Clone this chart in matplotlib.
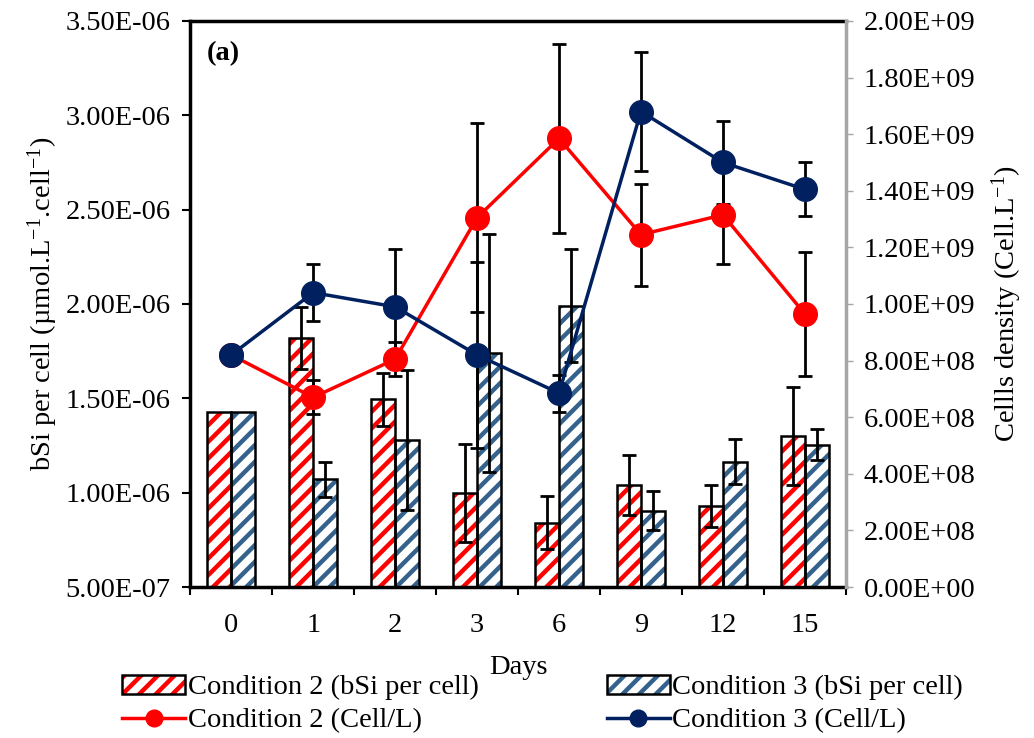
import numpy as np
import matplotlib
matplotlib.use('Agg')
import matplotlib.pyplot as plt
from matplotlib.patches import Patch
from matplotlib.lines import Line2D

plt.rcParams['font.family'] = ['Liberation Serif', 'DejaVu Serif']
plt.rcParams['mathtext.fontset'] = 'stix'
plt.rcParams['hatch.linewidth'] = 3.2

# data
days = ['0', '1', '2', '3', '6', '9', '12', '15']
bsi_c2 = [1.43e-6, 1.82e-6, 1.495e-6, 1.00e-6, 8.4e-7, 1.04e-6, 9.3e-7, 1.30e-6]
bsi_c2_err = [0, 0.165e-6, 0.14e-6, 0.26e-6, 0.14e-6, 0.16e-6, 0.11e-6, 0.26e-6]
bsi_c3 = [1.43e-6, 1.07e-6, 1.28e-6, 1.74e-6, 1.99e-6, 9.05e-7, 1.165e-6, 1.255e-6]
bsi_c3_err = [0, 0.095e-6, 0.37e-6, 0.63e-6, 0.30e-6, 0.105e-6, 0.12e-6, 0.08e-6]
cells_c2 = [8.2e8, 6.7e8, 8.05e8, 1.305e9, 1.585e9, 1.245e9, 1.315e9, 9.65e8]
cells_c2_err = [0, 0.06e9, 0.06e9, 0.335e9, 0.335e9, 0.18e9, 0.175e9, 0.22e9]
cells_c3 = [8.2e8, 1.04e9, 9.9e8, 8.2e8, 6.85e8, 1.68e9, 1.50e9, 1.405e9]
cells_c3_err = [0, 0.10e9, 0.205e9, 0.33e9, 0.065e9, 0.21e9, 0.145e9, 0.095e9]

red = '#ff0000'
navy = '#002060'
steel = '#34628c'
fs = 20.5

x = np.arange(len(days))
w = 0.29

fig = plt.figure(figsize=(10.34, 7.38), dpi=100)
ax = fig.add_axes([0.184, 0.2046, 0.634, 0.767])
ax2 = ax.twinx()

# bars: hatched layer + black outline
ax.bar(x - w/2, bsi_c2, w, color='white', edgecolor=red, hatch='//', linewidth=0, zorder=2)
ax.bar(x - w/2, bsi_c2, w, fill=False, edgecolor='black', linewidth=1.8, zorder=3)
ax.bar(x + w/2, bsi_c3, w, color='white', edgecolor=steel, hatch='//', linewidth=0, zorder=2)
ax.bar(x + w/2, bsi_c3, w, fill=False, edgecolor='black', linewidth=1.8, zorder=3)
ax.errorbar(x[1:] - w/2, bsi_c2[1:], yerr=bsi_c2_err[1:], fmt='none', ecolor='black',
            elinewidth=2, capsize=5, capthick=2, zorder=4)
ax.errorbar(x[1:] + w/2, bsi_c3[1:], yerr=bsi_c3_err[1:], fmt='none', ecolor='black',
            elinewidth=2, capsize=5, capthick=2, zorder=4)

# lines
ax2.errorbar(x[1:], cells_c2[1:], yerr=cells_c2_err[1:], fmt='none', ecolor='black',
             elinewidth=2, capsize=5, capthick=2, zorder=2)
ax2.errorbar(x[1:], cells_c3[1:], yerr=cells_c3_err[1:], fmt='none', ecolor='black',
             elinewidth=2, capsize=5, capthick=2, zorder=2)
ax2.plot(x, cells_c2, color=red, lw=2.5, marker='o', ms=17, zorder=3)
ax2.plot(x, cells_c3, color=navy, lw=2.5, marker='o', ms=17, zorder=3)

ax.set_xlim(-0.5, len(days) - 0.5)
ax.set_ylim(5e-7, 3.5e-6)
ax.set_yticks(np.arange(5e-7, 3.51e-6, 5e-7))
ax.set_yticklabels([f'{v:.2E}' for v in np.arange(5e-7, 3.51e-6, 5e-7)])
ax2.set_ylim(0, 2e9)
ax2.set_yticks(np.arange(0, 2.01e9, 2e8))
ax2.set_yticklabels([f'{v:.2E}' for v in np.arange(0, 2.01e9, 2e8)])

ax.set_xticks(x)
ax.set_xticklabels(days)
ax.set_xticks(np.arange(-0.5, len(days), 1), minor=True)
ax.tick_params(axis='x', which='major', length=0, labelsize=fs, pad=19)
ax.tick_params(axis='x', which='minor', length=6, width=1.5, direction='out')
ax.tick_params(axis='y', labelsize=fs, length=6, width=1.5, direction='out', pad=8)
ax2.tick_params(axis='y', labelsize=fs, length=5, width=1, color='#a6a6a6', direction='out', pad=8)

for s in ['left', 'bottom', 'top']:
    ax.spines[s].set_linewidth(2.5)
ax.spines['right'].set_visible(False)
ax2.spines['right'].set_color('#a6a6a6')
ax2.spines['right'].set_linewidth(2.5)
for s in ['left', 'bottom', 'top']:
    ax2.spines[s].set_visible(False)

ax.set_xlabel('Days', fontsize=fs, labelpad=12)
ax.set_ylabel(r'bSi per cell (µmol.L$\mathregular{^{-1}}$.cell$\mathregular{^{-1}}$)', fontsize=fs)
ax2.set_ylabel(r'Cellls density (Cell.L$\mathregular{^{-1}}$)', fontsize=fs, labelpad=10)
ax.text(0.025, 0.965, '(a)', transform=ax.transAxes, fontsize=fs, fontweight='bold', va='top')

h_c2 = (Patch(facecolor='white', edgecolor=red, hatch='//', linewidth=0),
        Patch(fill=False, edgecolor='black', linewidth=1.8))
h_c3 = (Patch(facecolor='white', edgecolor=steel, hatch='//', linewidth=0),
        Patch(fill=False, edgecolor='black', linewidth=1.8))
l_c2 = Line2D([], [], color=red, lw=2.5, marker='o', ms=12)
l_c3 = Line2D([], [], color=navy, lw=2.5, marker='o', ms=12)
fig.legend([h_c2, l_c2, h_c3, l_c3],
           ['Condition 2 (bSi per cell)', 'Condition 2 (Cell/L)',
            'Condition 3 (bSi per cell)', 'Condition 3 (Cell/L)'],
           ncol=2, loc='center', bbox_to_anchor=(0.525, 0.046), frameon=False,
           fontsize=fs, handlelength=2.2, handletextpad=0.1, columnspacing=4.5,
           labelspacing=0.25, borderpad=0)

fig.savefig('out.png', dpi=100)
